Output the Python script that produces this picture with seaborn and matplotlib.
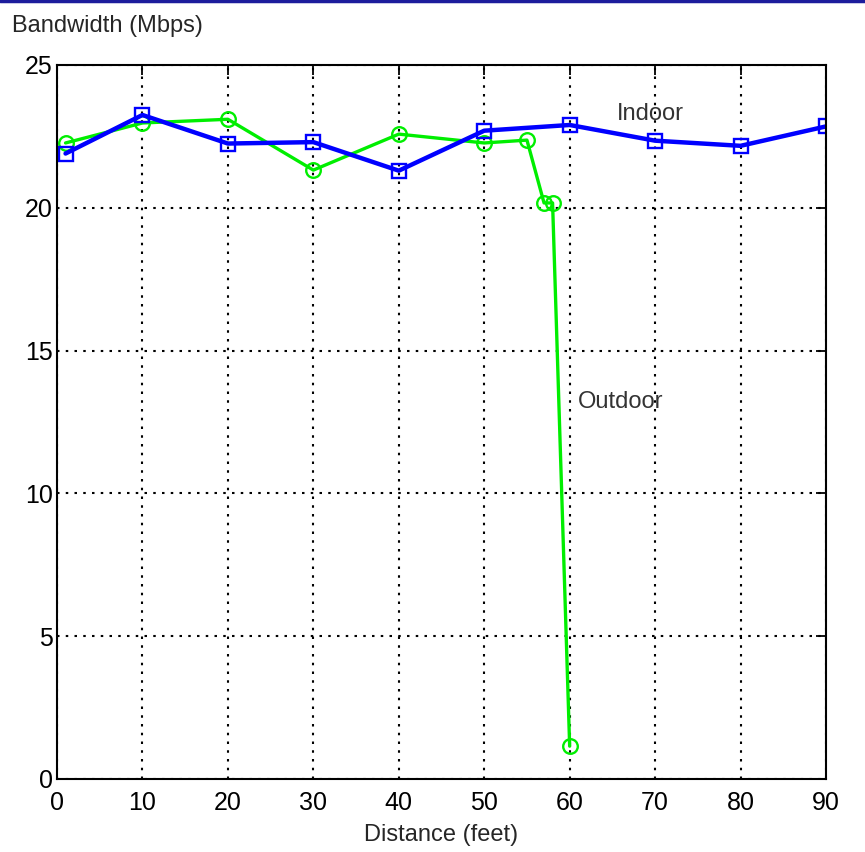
import matplotlib
matplotlib.use("Agg")
import matplotlib.pyplot as plt
from matplotlib.lines import Line2D
import seaborn as sns
import pandas as pd

indoor_x = [1, 10, 20, 30, 40, 50, 60, 70, 80, 90]
indoor_y = [21.9, 23.25, 22.25, 22.3, 21.3, 22.7, 22.9, 22.35, 22.17, 22.85]
outdoor_x = [1, 10, 20, 30, 40, 50, 55, 57, 58, 60]
outdoor_y = [22.27, 22.97, 23.1, 21.32, 22.58, 22.27, 22.37, 20.17, 20.17, 1.15]
x_ticks = [0, 10, 20, 30, 40, 50, 60, 70, 80, 90]
y_ticks = [0, 5, 10, 15, 20, 25]

sns.set_style("white")
plt.rcParams['font.family'] = ['Liberation Sans', 'DejaVu Sans']

fig = plt.figure(figsize=(8.65, 8.52), dpi=100)
ax = fig.add_axes([57/865, 1-779/852, (826-57)/865, (779-65)/852])

df_out = pd.DataFrame({"x": outdoor_x, "y": outdoor_y})
df_in = pd.DataFrame({"x": indoor_x, "y": indoor_y})

sns.lineplot(data=df_out, x="x", y="y", ax=ax, color="#00ee00", lw=2.4,
             marker="o", markersize=10.5, markerfacecolor="none",
             markeredgecolor="#00ee00", markeredgewidth=1.7, sort=False)
sns.lineplot(data=df_in, x="x", y="y", ax=ax, color="#0000ff", lw=3.2,
             marker="s", markersize=10.5, markerfacecolor="none",
             markeredgecolor="#0000ff", markeredgewidth=1.7, sort=False)

ax.set_xlim(0, 90)
ax.set_ylim(0, 25)
ax.set_xticks(x_ticks)
ax.set_yticks(y_ticks)
ax.grid(True, color="black", linestyle=(0, (1.2, 3)), linewidth=1.5)
ax.tick_params(direction="in", length=7, width=1.3, top=True, right=True,
               labelsize=18, colors="black")
ax.tick_params(axis="x", pad=9)
ax.tick_params(axis="y", pad=3)
for s in ax.spines.values():
    s.set_color("black")
    s.set_linewidth(1.5)

ax.set_xlabel("Distance (feet)", fontsize=17, labelpad=6)
ax.set_ylabel("")

ax.text(69.5, 23.3, "Indoor", fontsize=17, ha="center", va="center", color="#333333")
ax.text(66, 13.2, "Outdoor", fontsize=17, ha="center", va="center", color="#333333")

fig.text(12/865, 1-26/852, "Bandwidth (Mbps)", fontsize=17, ha="left", va="center")
fig.add_artist(Line2D([0, 1], [1-1/852, 1-1/852], color="#1c1c9c", lw=2.5,
                      transform=fig.transFigure))

fig.savefig("out.png", dpi=100)
